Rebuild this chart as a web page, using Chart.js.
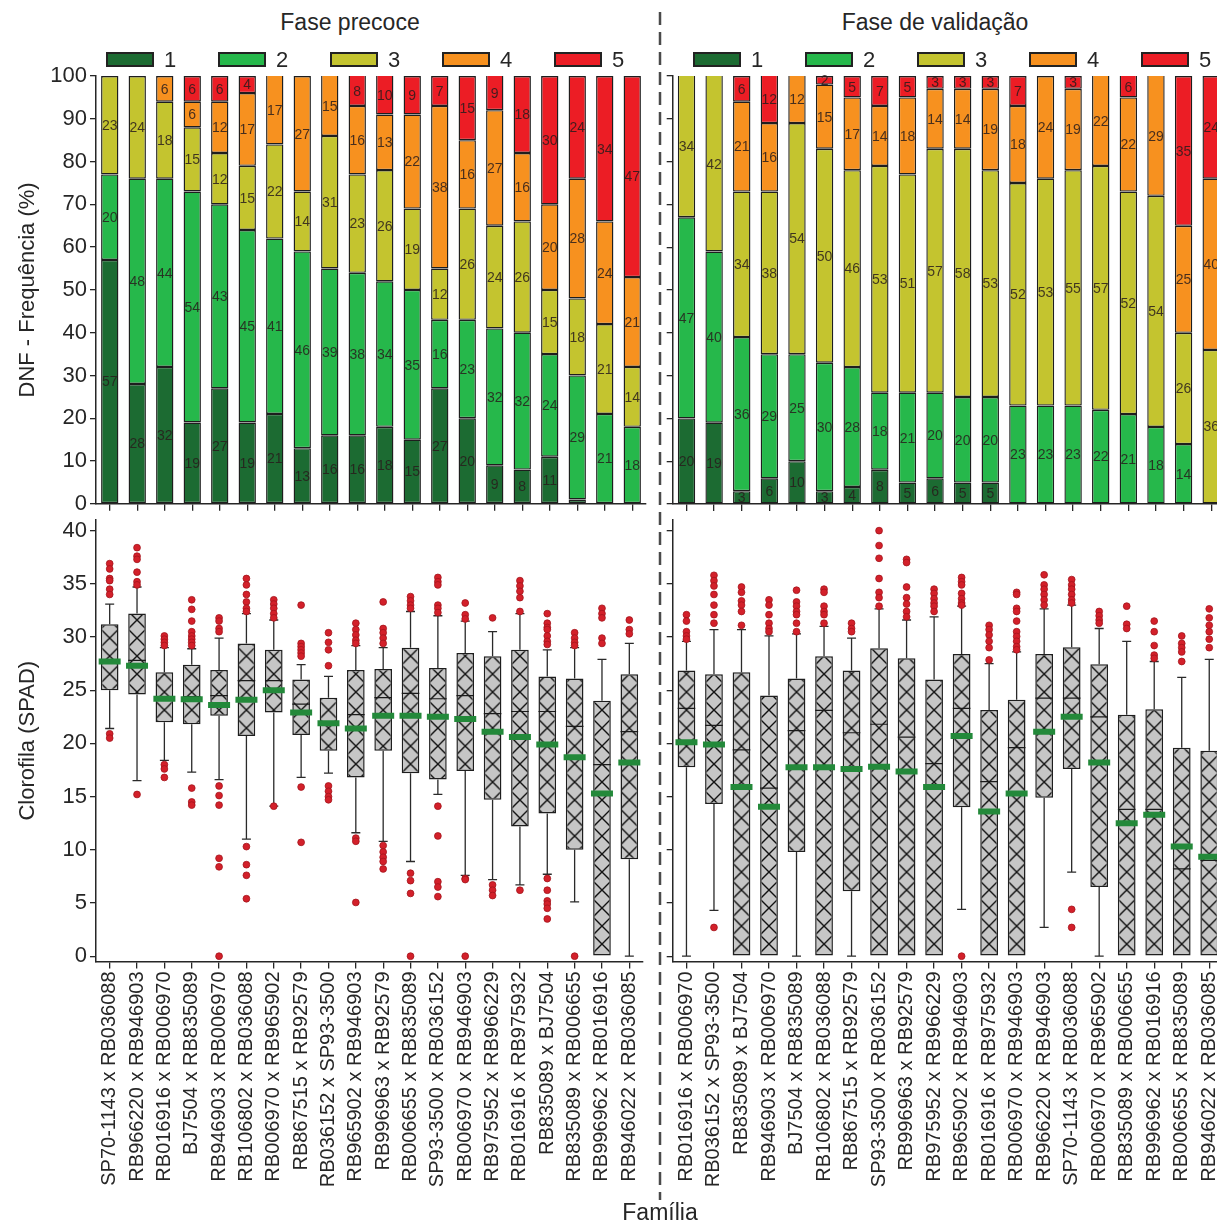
<!DOCTYPE html>
<html lang="pt-BR">
<head>
<meta charset="utf-8">
<title>DNF e clorofila por família</title>
<script src="https://cdn.jsdelivr.net/npm/chart.js@4.4.1/dist/chart.umd.min.js"></script>
<style>
  html, body { margin: 0; padding: 0; background: #fff; }
  body { position: relative; width: 1217px; height: 1229px; overflow: hidden;
         font-family: "Liberation Sans", Arial, sans-serif; color: #262626; }
  canvas { position: absolute; }
  .phase { position: absolute; top: 9px; font-size: 23px; line-height: 26px;
           transform: translateX(-50%); white-space: nowrap; }
  .leg-box { position: absolute; top: 52px; width: 44px; height: 11px; border: 2px solid #222; }
  .leg-txt { position: absolute; top: 48px; font-size: 22px; line-height: 24px; }
  #familia { position: absolute; left: 660px; top: 1199px; font-size: 23px; line-height: 26px;
             transform: translateX(-50%); }
  #divider { position: absolute; left: 0; top: 0; }
</style>
</head>
<body>
<div class="phase" style="left:350px">Fase precoce</div>
<div class="phase" style="left:935px">Fase de validação</div>

<canvas id="dnfEarly"   width="660" height="462" style="left:0;top:58px"></canvas>
<canvas id="dnfValid"   width="600" height="462" style="left:640px;top:58px"></canvas>
<canvas id="spadEarly"  width="660" height="700" style="left:0;top:500px"></canvas>
<canvas id="spadValid"  width="600" height="700" style="left:640px;top:500px"></canvas>

<svg id="divider" width="1217" height="1229">
  <line x1="660" y1="12" x2="660" y2="1200" stroke="#4a4a4a" stroke-width="2.5" stroke-dasharray="13 7"/>
</svg>
<div id="familia">Família</div>

<script>
// ---------- DNF classes ----------
const levels = ['1', '2', '3', '4', '5'];
const levelColors = ['#1c6b32', '#26b84b', '#c4c42f', '#f7911f', '#ec1d25'];
const dnfTicks = [0, 10, 20, 30, 40, 50, 60, 70, 80, 90, 100];
const spadTicks = [0, 5, 10, 15, 20, 25, 30, 35, 40];

// ---------- Fase precoce ----------
const famEarly = [
  'SP70-1143 x RB036088', 'RB966220 x RB946903', 'RB016916 x RB006970', 'BJ7504 x RB835089',
  'RB946903 x RB006970', 'RB106802 x RB036088', 'RB006970 x RB965902', 'RB867515 x RB92579',
  'RB036152 x SP93-3500', 'RB965902 x RB946903', 'RB996963 x RB92579', 'RB006655 x RB835089',
  'SP93-3500 x RB036152', 'RB006970 x RB946903', 'RB975952 x RB966229', 'RB016916 x RB975932',
  'RB835089 x BJ7504', 'RB835089 x RB006655', 'RB996962 x RB016916', 'RB946022 x RB036085'
];
const dnfEarly1 = [57, 28, 32, 19, 27, 19, 21, 13, 16, 16, 18, 15, 27, 20, 9, 8, 11, 1, 0, 0];
const dnfEarly2 = [20, 48, 44, 54, 43, 45, 41, 46, 39, 38, 34, 35, 16, 23, 32, 32, 24, 29, 21, 18];
const dnfEarly3 = [23, 24, 18, 15, 12, 15, 22, 14, 31, 23, 26, 19, 12, 26, 24, 26, 15, 18, 21, 14];
const dnfEarly4 = [0, 0, 6, 6, 12, 17, 17, 27, 15, 16, 13, 22, 38, 16, 27, 16, 20, 28, 24, 21];
const dnfEarly5 = [0, 0, 0, 6, 6, 4, 0, 0, 0, 8, 10, 9, 7, 15, 9, 18, 30, 24, 34, 47];

const spadEarlyLow  = [21.4, 16.5, 18.4, 17.3, 16.6, 11.0, 14.1, 16.8, 17.2, 11.6, 10.8, 8.9, 15.2, 7.6, 7.2, 6.7, 7.7, 5.1, 0, 0];
const spadEarlyQ1   = [25.0, 24.6, 22.0, 21.8, 22.6, 20.7, 22.9, 20.8, 19.3, 16.8, 19.3, 17.2, 16.6, 17.4, 14.7, 12.2, 13.4, 10.0, 0, 9.1];
const spadEarlyMed  = [27.8, 27.8, 24.3, 24.4, 24.5, 25.9, 25.9, 23.7, 22.0, 22.7, 24.3, 24.7, 24.2, 24.5, 22.8, 23.0, 23.0, 21.6, 18.0, 21.1];
const spadEarlyQ3   = [31.2, 32.2, 26.7, 27.4, 26.9, 29.4, 28.8, 26.0, 24.3, 26.9, 27.0, 29.0, 27.1, 28.5, 28.2, 28.8, 26.3, 26.1, 24.0, 26.5];
const spadEarlyHigh = [33.1, 34.7, 29.0, 28.9, 29.9, 32.2, 31.6, 27.4, 26.3, 29.2, 29.0, 32.4, 32.0, 31.5, 30.5, 32.2, 28.8, 29.0, 27.9, 29.4];
const spadEarlyMean = [27.7, 27.3, 24.2, 24.15, 23.6, 24.1, 25.0, 22.9, 21.9, 21.4, 22.6, 22.6, 22.5, 22.3, 21.1, 20.6, 19.9, 18.7, 15.3, 18.2];
const spadEarlyOut = [
  [36.9, 36.4, 35.5, 35.3, 34.5, 34.0, 20.9, 20.5],
  [38.4, 37.6, 37.3, 36.1, 35.2, 34.9, 15.2],
  [30.1, 29.8, 29.5, 29.2, 18.0, 17.6, 16.8],
  [33.5, 32.6, 31.5, 30.5, 30.1, 29.8, 29.5, 29.2, 15.8, 14.5, 14.2],
  [31.8, 31.5, 30.8, 30.5, 16.0, 15.1, 14.2, 9.2, 8.4, 0],
  [35.5, 34.9, 34.0, 33.3, 32.7, 32.4, 10.3, 8.6, 7.6, 5.4],
  [33.5, 33.1, 32.7, 32.2, 31.8, 14.1],
  [33.0, 29.4, 29.1, 28.8, 28.5, 28.2, 15.9, 10.7],
  [30.4, 29.5, 28.8, 27.3, 16.0, 15.5, 15.0, 14.7],
  [31.3, 30.7, 30.2, 29.7, 29.4, 11.1, 10.8, 5.05],
  [33.3, 30.8, 30.4, 29.9, 29.4, 10.4, 9.8, 9.3, 8.9, 8.2],
  [33.8, 33.4, 33.0, 32.7, 7.8, 7.1, 5.9, 0],
  [35.6, 35.2, 34.9, 33.0, 32.7, 32.3, 14.1, 11.3, 7.0, 6.5, 5.6],
  [33.2, 32.1, 31.7, 7.3, 7.2, 0],
  [31.8, 6.7, 6.2, 5.7],
  [35.3, 34.8, 34.3, 33.7, 32.4, 6.2],
  [32.2, 31.3, 30.9, 30.7, 30.1, 29.6, 29.3, 7.3, 6.2, 5.2, 4.9, 4.5, 3.5],
  [30.4, 29.9, 29.5, 29.2, 0],
  [32.7, 32.2, 31.8, 29.9, 29.4],
  [31.6, 30.7, 30.3]
];

// ---------- Fase de validação ----------
const famValid = [
  'RB016916 x RB006970', 'RB036152 x SP93-3500', 'RB835089 x BJ7504', 'RB946903 x RB006970',
  'BJ7504 x RB835089', 'RB106802 x RB036088', 'RB867515 x RB92579', 'SP93-3500 x RB036152',
  'RB996963 x RB92579', 'RB975952 x RB966229', 'RB965902 x RB946903', 'RB016916 x RB975932',
  'RB006970 x RB946903', 'RB966220 x RB946903', 'SP70-1143 x RB036088', 'RB006970 x RB965902',
  'RB835089 x RB006655', 'RB996962 x RB016916', 'RB006655 x RB835089', 'RB946022 x RB036085'
];
const dnfValid1 = [20, 19, 3, 6, 10, 3, 4, 8, 5, 6, 5, 5, 0, 0, 0, 0, 0, 0, 0, 0];
const dnfValid2 = [47, 40, 36, 29, 25, 30, 28, 18, 21, 20, 20, 20, 23, 23, 23, 22, 21, 18, 14, 0];
const dnfValid3 = [34, 42, 34, 38, 54, 50, 46, 53, 51, 57, 58, 53, 52, 53, 55, 57, 52, 54, 26, 36];
const dnfValid4 = [0, 0, 21, 16, 12, 15, 17, 14, 18, 14, 14, 19, 18, 24, 19, 22, 22, 29, 25, 40];
const dnfValid5 = [0, 0, 6, 12, 0, 2, 5, 7, 5, 3, 3, 3, 7, 0, 3, 0, 6, 0, 35, 24];

const spadValidLow  = [0, 4.3, 0, 0, 0, 0, 0, 0, 0, 0, 4.4, 0, 0, 2.7, 7.9, 0, 0, 0, 0, 0];
const spadValidQ1   = [17.75, 14.3, 0, 0, 9.8, 0, 6.1, 0, 0, 0, 14.0, 0, 0, 14.9, 17.6, 6.5, 0, 0, 0, 0];
const spadValidMed  = [23.3, 21.7, 19.4, 15.8, 21.2, 23.1, 21.0, 21.8, 20.6, 18.1, 23.3, 16.4, 19.6, 24.25, 24.25, 22.5, 13.8, 13.8, 8.2, 9.0];
const spadValidQ3   = [26.85, 26.5, 26.7, 24.5, 26.1, 28.2, 26.85, 28.95, 28.0, 26.0, 28.4, 23.15, 24.1, 28.4, 29.05, 27.45, 22.7, 23.2, 19.6, 19.3];
const spadValidHigh = [29.6, 30.7, 30.7, 30.1, 30.3, 31.0, 29.9, 32.65, 31.6, 31.9, 32.9, 27.5, 28.6, 32.65, 33.0, 30.8, 29.6, 27.7, 26.2, 27.9];
const spadValidMean = [20.1, 19.9, 15.9, 14.05, 17.75, 17.75, 17.6, 17.8, 17.35, 15.9, 20.7, 13.6, 15.3, 21.1, 22.5, 18.2, 12.5, 13.3, 10.3, 9.35];
const spadValidOut = [
  [32.1, 31.5, 30.5, 30.1, 29.8],
  [35.8, 35.3, 34.8, 34.0, 33.0, 32.1, 31.3, 2.7],
  [34.7, 34.2, 33.4, 33.0, 32.4, 31.1],
  [33.5, 33.0, 32.1, 31.3, 30.8, 30.5],
  [34.4, 33.3, 32.9, 32.4, 32.1, 31.3, 30.5],
  [34.5, 34.2, 32.9, 32.4, 32.1, 31.3],
  [31.3, 30.8, 30.5],
  [40.0, 38.6, 37.4, 35.5, 34.2, 33.7, 32.9],
  [37.3, 37.0, 34.7, 33.7, 33.1, 32.4, 31.9],
  [34.5, 34.1, 33.6, 33.2, 32.9, 32.4],
  [35.6, 35.2, 34.9, 34.1, 33.6, 33.2, 33.0, 0],
  [31.1, 30.7, 30.2, 29.6, 29.0, 27.85],
  [34.2, 34.0, 32.7, 32.4, 31.5, 30.5, 30.05, 29.6, 29.1, 28.8],
  [35.85, 34.9, 34.5, 34.0, 33.5, 33.0],
  [35.4, 34.9, 34.5, 34.0, 33.5, 33.2, 4.4, 2.7],
  [32.4, 32.0, 31.6, 31.3],
  [32.9, 31.2, 30.8],
  [31.5, 30.5, 29.2, 28.3, 28.0],
  [30.1, 29.4, 29.0, 28.6, 27.7],
  [32.65, 31.8, 31.1, 30.5, 29.8, 29.0]
];

// ---------- shared styling ----------
const FONT = '"Liberation Sans", Arial, sans-serif';
const INK = '#262626';
Chart.defaults.font.family = FONT;
Chart.defaults.color = INK;

// legends (one per phase)
function buildLegend(x0) {
  levels.forEach((lv, k) => {
    const left = x0 + k * 112;
    const box = document.createElement('div');
    box.className = 'leg-box';
    box.style.left = left + 'px';
    box.style.background = levelColors[k];
    document.body.appendChild(box);
    const txt = document.createElement('div');
    txt.className = 'leg-txt';
    txt.style.left = (left + 58) + 'px';
    txt.textContent = lv;
    document.body.appendChild(txt);
  });
}
buildLegend(106);
buildLegend(693);

// value labels inside each stacked segment
const segmentLabels = {
  id: 'segmentLabels',
  afterDatasetsDraw(chart) {
    const { ctx, chartArea } = chart;
    ctx.save();
    ctx.font = '14px ' + FONT;
    ctx.textAlign = 'center';
    ctx.textBaseline = 'middle';
    ctx.fillStyle = 'rgba(40,28,28,0.85)';
    chart.data.datasets.forEach((ds, di) => {
      chart.getDatasetMeta(di).data.forEach((bar, i) => {
        const v = ds.data[i];
        if (!v || v < 2) return;
        const top = Math.max(Math.min(bar.y, bar.base), chartArea.top);
        const bot = Math.min(Math.max(bar.y, bar.base), chartArea.bottom);
        if (bot - top < 7) return;
        ctx.fillText(String(v), bar.x, (top + bot) / 2 + 1);
      });
    });
    ctx.restore();
  }
};

function yAxisCommon(width, showLabels, title) {
  return {
    grid: { drawOnChartArea: false, tickLength: 6, color: INK, lineWidth: 1.3 },
    border: { display: true, color: INK, width: 1.5 },
    ticks: { display: showLabels, font: { size: 22 }, color: INK, padding: 3 },
    title: title
      ? { display: true, text: title, font: { size: 22 }, color: INK, padding: { top: 15, bottom: 0 } }
      : { display: false },
    afterFit(s) { s.width = width; }
  };
}

function dnfChart(id, labels, series, yWidth, padRight, title) {
  return new Chart(document.getElementById(id), {
    type: 'bar',
    data: {
      labels,
      datasets: series.map((d, k) => ({
        label: levels[k], data: d, backgroundColor: levelColors[k],
        borderColor: '#1e1e1e', borderWidth: 1.4, borderSkipped: false,
        barPercentage: 0.63, categoryPercentage: 1
      }))
    },
    options: {
      responsive: false, animation: false, devicePixelRatio: 1,
      layout: { padding: { top: 18, right: padRight, left: 0, bottom: 0 } },
      plugins: { legend: { display: false }, tooltip: { enabled: false } },
      scales: {
        x: {
          stacked: true,
          grid: { drawOnChartArea: false, offset: false, tickLength: 7, color: INK, lineWidth: 1.3 },
          border: { display: true, color: INK, width: 1.5 },
          ticks: { display: false },
          afterFit(s) { s.height = 16; }
        },
        y: Object.assign({
          stacked: true, min: 0, max: 100,
          afterBuildTicks(s) { s.ticks = dnfTicks.map(v => ({ value: v })); }
        }, yAxisCommon(yWidth, !!title, title))
      }
    },
    plugins: [segmentLabels]
  });
}

// cross-hatch fill for the boxes, aligned on each box
const HATCH = 18;
const hatchTile = (() => {
  const c = document.createElement('canvas');
  c.width = HATCH; c.height = HATCH;
  const g = c.getContext('2d');
  g.fillStyle = '#c6c6c6';
  g.fillRect(0, 0, HATCH, HATCH);
  g.strokeStyle = '#111';
  g.lineWidth = 1.4;
  g.beginPath();
  for (const o of [-HATCH, 0, HATCH]) {
    g.moveTo(o, 0); g.lineTo(o + HATCH, HATCH);
    g.moveTo(o + HATCH, 0); g.lineTo(o, HATCH);
  }
  g.stroke();
  return c;
})();
function hatchFill(ctx) {
  const chart = ctx.chart;
  if (ctx.dataIndex === undefined || !chart.scales.x) return '#c6c6c6';
  const p = chart.ctx.createPattern(hatchTile, 'repeat');
  const left = chart.scales.x.getPixelForValue(ctx.dataIndex) - HATCH / 2;
  p.setTransform(new DOMMatrix().translate(left, 3));
  return p;
}

function spadChart(id, labels, low, q1, med, q3, high, mean, out, yWidth, padRight, title) {
  const whiskers = {
    id: 'whiskers',
    beforeDatasetsDraw(chart) {
      const { ctx } = chart;
      const xs = chart.scales.x, ys = chart.scales.y;
      ctx.save();
      ctx.strokeStyle = '#2a2a2a';
      ctx.lineWidth = 1.3;
      const cap = 4.5;
      q1.forEach((lo, i) => {
        const cx = xs.getPixelForValue(i);
        ctx.beginPath();
        ctx.moveTo(cx, ys.getPixelForValue(q3[i]));
        ctx.lineTo(cx, ys.getPixelForValue(high[i]));
        ctx.moveTo(cx - cap, ys.getPixelForValue(high[i]));
        ctx.lineTo(cx + cap, ys.getPixelForValue(high[i]));
        if (lo > low[i]) {
          ctx.moveTo(cx, ys.getPixelForValue(lo));
          ctx.lineTo(cx, ys.getPixelForValue(low[i]));
          ctx.moveTo(cx - cap, ys.getPixelForValue(low[i]));
          ctx.lineTo(cx + cap, ys.getPixelForValue(low[i]));
        }
        ctx.stroke();
      });
      ctx.restore();
    }
  };
  const at = (arr) => arr.map((v, i) => ({ x: labels[i], y: v }));
  return new Chart(document.getElementById(id), {
    type: 'bar',
    data: {
      labels,
      datasets: [
        {
          type: 'scatter', label: 'outliers', order: 0,
          data: out.flatMap((a, i) => a.map(v => ({ x: labels[i], y: v }))),
          pointRadius: 3.4, pointBackgroundColor: '#d3202a',
          pointBorderColor: '#a3141c', pointBorderWidth: 0.8
        },
        {
          type: 'scatter', label: 'média', order: 1, data: at(mean),
          pointStyle: 'line', pointRadius: 11, pointBorderWidth: 6, pointBorderColor: '#23893a'
        },
        {
          type: 'scatter', label: 'mediana', order: 2, data: at(med),
          pointStyle: 'line', pointRadius: 8.8, pointBorderWidth: 1.2, pointBorderColor: '#1a1a1a'
        },
        {
          type: 'bar', label: 'caixa', order: 3,
          data: q1.map((v, i) => [v, q3[i]]),
          backgroundColor: hatchFill, borderColor: '#1e1e1e', borderWidth: 1.5,
          borderSkipped: false, barPercentage: 0.645, categoryPercentage: 1
        }
      ]
    },
    options: {
      responsive: false, animation: false, devicePixelRatio: 1,
      layout: { padding: { top: 20, right: padRight, left: 0, bottom: 0 } },
      plugins: { legend: { display: false }, tooltip: { enabled: false } },
      scales: {
        x: {
          type: 'category',
          grid: { drawOnChartArea: false, offset: false, tickLength: 7, color: INK, lineWidth: 1.3 },
          border: { display: true, color: INK, width: 1.5 },
          ticks: { autoSkip: false, minRotation: 90, maxRotation: 90, font: { size: 20 }, color: INK, padding: 3 },
          afterFit(s) { s.height = 238.5; }
        },
        y: Object.assign({
          min: -0.5, max: 41,
          afterBuildTicks(s) { s.ticks = spadTicks.map(v => ({ value: v })); }
        }, yAxisCommon(yWidth, !!title, title))
      }
    },
    plugins: [whiskers]
  });
}

dnfChart('dnfEarly', famEarly, [dnfEarly1, dnfEarly2, dnfEarly3, dnfEarly4, dnfEarly5], 96, 14, 'DNF - Frequência (%)');
dnfChart('dnfValid', famValid, [dnfValid1, dnfValid2, dnfValid3, dnfValid4, dnfValid5], 32.7, 15, null);
spadChart('spadEarly', famEarly, spadEarlyLow, spadEarlyQ1, spadEarlyMed, spadEarlyQ3, spadEarlyHigh,
          spadEarlyMean, spadEarlyOut, 96, 14, 'Clorofila (SPAD)');
spadChart('spadValid', famValid, spadValidLow, spadValidQ1, spadValidMed, spadValidQ3, spadValidHigh,
          spadValidMean, spadValidOut, 32.7, 15, null);
</script>
</body>
</html>
